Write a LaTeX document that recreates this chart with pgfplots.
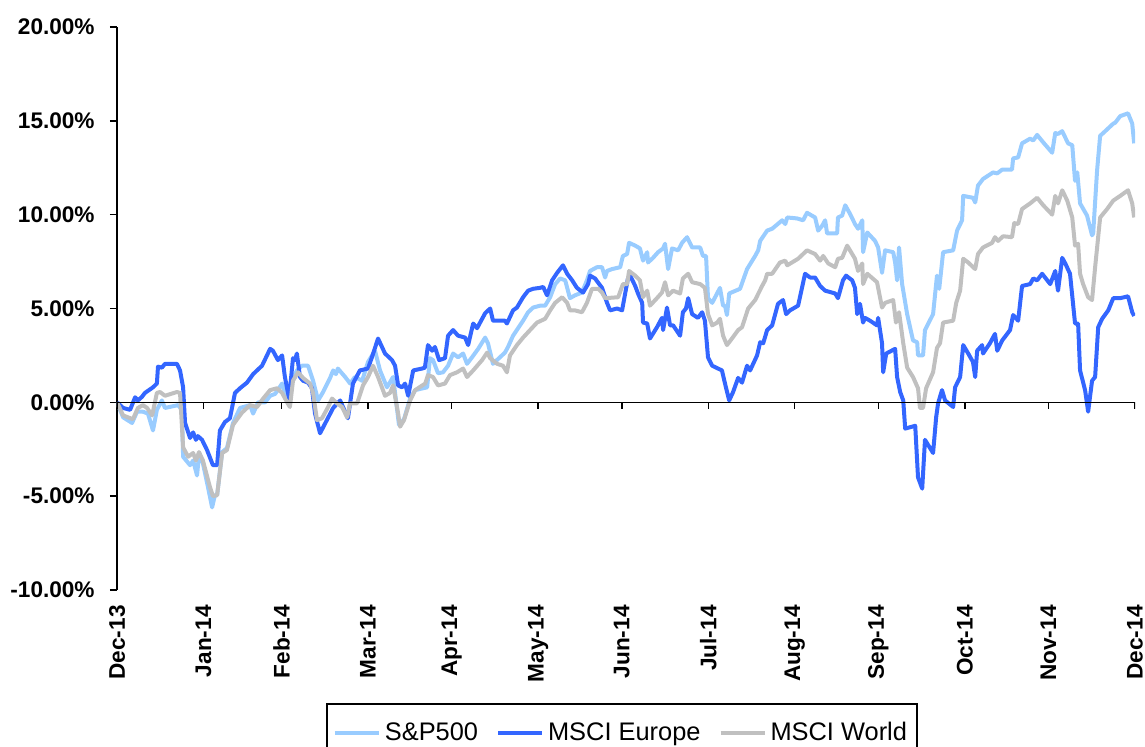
\documentclass[border=0pt]{standalone}
\usepackage{fontspec}
\setmainfont{Liberation Sans}
\usepackage{pgfplots}
\pgfplotsset{compat=1.18}
\definecolor{sp}{HTML}{99CCFF}
\definecolor{eu}{HTML}{3366FF}
\definecolor{wo}{HTML}{C0C0C0}
\begin{document}
\begin{tikzpicture}
\begin{axis}[
 at={(58.5pt,78.5pt)}, anchor=south west,
 scale only axis, width=509pt, height=281.5pt,
 xmin=0, xmax=365, ymin=-10, ymax=20,
 axis y line*=left, axis x line*=bottom,
 x axis line style={draw=none},
 y axis line style={line width=0.75pt},
 xtick={0,31,59,90,120,151,181,212,243,273,304,334,365},
 xticklabels={Dec-13,Jan-14,Feb-14,Mar-14,Apr-14,May-14,Jun-14,Jul-14,Aug-14,Sep-14,Oct-14,Nov-14,Dec-14},
 xtick style={draw=none},
 xticklabel style={rotate=90, anchor=east, inner sep=0pt, font=\fontsize{11.3}{13}\selectfont\bfseries, xshift=-4pt},
 ytick={-10,-5,0,5,10,15,20},
 yticklabels={-10.00\%,-5.00\%,0.00\%,5.00\%,10.00\%,15.00\%,20.00\%},
 ytick style={line width=0.75pt, black},
 tick align=outside, major tick length=3.5pt,
 yticklabel style={inner sep=0pt, font=\fontsize{11.3}{13}\selectfont\bfseries, xshift=-7.5pt},
 legend columns=3,
 legend style={at={(0.496,-0.254)}, anchor=center, draw=black, line width=0.8pt,
   font=\fontsize{12.7}{15}\selectfont, inner xsep=3pt, inner ysep=7pt,
   /tikz/every even column/.append style={column sep=7pt}},
 legend image code/.code={\draw[#1] (0pt,0pt) -- (22pt,0pt);},
 every axis plot/.append style={line width=2pt, line join=round},
]
\addplot[sp] coordinates {
(0.0,0) (2.2,-0.8) (5.4,-1.1) (7.2,-0.5) (9.3,-0.5) (11.1,-0.6) (12.9,-1.5) (14.3,-0.4) (16.1,0.1) (17.2,-0.3) (21.9,-0.15) (23.3,-0.4) (23.7,-2.9) (26.2,-3.35) (27.3,-3.1) (28.7,-3.9) (29.4,-2.8) (30.8,-3.25) (32.6,-4.5) (34.1,-5.6) (35.1,-4.95) (35.9,-4.95) (37.7,-2.65) (39.4,-2.45) (41.6,-1.1) (44.1,-0.3) (47.7,-0.15) (48.8,-0.6) (50.6,0) (53.1,0) (54.9,0.35) (56.7,0.45) (59.2,1.0) (61.0,0.1) (62.8,1.15) (64.5,1.7) (66.3,1.95) (68.5,1.95) (70.3,1.15) (72.1,0.1) (73.9,0.55) (76.4,1.3) (77.5,1.7) (78.5,1.5) (79.2,1.8) (81.8,1.35) (83.6,1.0) (85.3,1.35) (87.9,1.15) (90.0,2.15) (92.5,2.75) (94.3,1.7) (96.8,0.8) (99.0,1.35) (101.1,-1.2) (102.9,-0.9) (105.1,0.2) (106.9,0.65) (111.2,0.8) (112.2,2.35) (113.3,2.25) (115.1,1.55) (116.9,1.6) (118.7,1.95) (120.5,2.6) (122.3,2.4) (124.1,2.6) (125.5,2.05) (127.3,2.4) (129.5,2.85) (132.0,3.45) (133.0,3.15) (134.8,2.05) (137.3,2.4) (139.1,2.65) (140.2,2.95) (142.0,3.55) (145.6,4.35) (147.4,4.8) (149.2,5.05) (151.7,5.15) (153.5,5.15) (155.3,5.6) (157.1,6.3) (158.9,6.6) (160.7,6.5) (162.4,5.55) (164.2,5.7) (166.7,5.85) (168.5,6.5) (169.6,7.0) (172.1,7.2) (173.9,7.2) (175.0,6.65) (175.7,7.0) (177.5,7.1) (180.4,7.2) (181.4,7.8) (182.9,7.9) (183.6,8.5) (185.8,8.35) (187.5,8.2) (188.6,7.55) (190.1,8.0) (190.4,7.45) (192.2,7.7) (194.0,8.0) (195.8,8.2) (196.5,8.45) (197.6,7.1) (199.0,8.2) (201.2,8.1) (202.6,8.5) (204.4,8.8) (206.2,8.25) (209.1,8.25) (210.1,7.8) (211.2,7.8) (211.9,5.55) (213.4,5.3) (216.2,6.1) (217.3,5.15) (218.0,5.15) (218.7,4.65) (219.5,5.8) (223.4,6.05) (225.9,7.1) (228.8,7.8) (229.9,8.1) (230.6,8.6) (233.1,9.15) (234.9,9.25) (238.5,9.7) (239.6,9.5) (240.3,9.85) (243.8,9.8) (246.0,9.7) (247.4,10.1) (250.3,9.85) (251.4,9.15) (252.8,9.4) (253.9,9.7) (254.6,9.0) (258.2,9.0) (258.5,9.85) (260.0,9.95) (261.1,10.5) (262.8,10.05) (264.6,9.5) (265.7,9.25) (267.2,9.7) (267.5,8.0) (269.0,9.05) (271.8,8.6) (272.9,8.25) (274.3,6.9) (275.4,8.1) (278.3,8.0) (279.0,7.45) (279.7,6.5) (280.4,8.25) (281.5,6.3) (283.3,4.7) (285.4,3.3) (286.9,3.2) (287.2,2.5) (289.0,2.5) (289.7,3.85) (292.6,4.7) (294.0,6.75) (294.8,6.05) (296.2,8.0) (299.8,8.1) (301.2,9.15) (303.0,9.7) (303.4,11.0) (306.9,10.9) (307.7,10.65) (308.7,11.55) (310.5,11.9) (314.1,12.25) (315.6,12.2) (317.4,12.4) (320.9,12.4) (321.3,13.0) (323.1,13.05) (324.5,13.8) (327.4,14.05) (328.5,13.95) (329.9,14.25) (332.1,13.85) (335.3,13.3) (336.4,14.35) (337.4,14.3) (338.9,14.45) (341.0,13.8) (342.5,13.7) (343.5,11.8) (344.3,12.25) (345.3,10.6) (347.8,9.95) (349.6,8.9) (350.0,9.0) (351.4,12.35) (352.5,14.2) (353.6,14.35) (357.2,14.85) (357.9,14.9) (359.7,15.25) (362.5,15.4) (364.0,14.85) (364.7,13.8)
};
\addlegendentry{S\&P500}
\addplot[eu] coordinates {
(0,0) (2.2,-0.3) (4.7,-0.4) (6.5,0.27) (7.5,0.1) (9.0,0.3) (10.0,0.5) (12.9,0.8) (14.3,1.0) (14.7,1.9) (16.1,1.85) (17.2,2.05) (21.5,2.05) (22.6,1.7) (23.7,0.8) (24.4,-1.1) (26.2,-1.9) (27.3,-1.6) (28.3,-2.0) (29.0,-1.8) (30.5,-2.0) (32.3,-2.55) (34.4,-3.35) (35.9,-3.35) (36.9,-1.5) (38.7,-1.05) (40.5,-0.85) (42.3,0.5) (44.1,0.75) (46.6,1.05) (48.8,1.5) (50.2,1.7) (52.0,1.95) (54.9,2.85) (55.9,2.75) (57.7,2.25) (59.2,2.5) (60.2,1.35) (61.7,0.2) (63.1,2.35) (63.8,2.25) (64.5,2.6) (65.6,1.35) (66.7,1.15) (68.5,1.05) (69.9,0.75) (71.0,-0.6) (72.8,-1.65) (77.5,-0.3) (80.0,0.1) (82.8,-0.85) (84.6,1.0) (87.1,1.7) (90.0,1.8) (91.4,2.4) (93.6,3.4) (96.1,2.6) (98.6,2.25) (99.7,1.95) (100.8,0.9) (102.2,0.8) (103.3,1.0) (104.4,0.35) (106.2,1.7) (109.4,1.8) (110.4,1.85) (111.5,3.05) (113.0,2.75) (114.0,2.95) (115.5,2.25) (117.6,2.35) (118.7,3.55) (120.5,3.85) (122.3,3.55) (124.8,3.45) (125.9,3.05) (127.7,4.2) (129.1,3.95) (132.0,4.75) (133.8,5.0) (134.8,4.35) (139.1,4.35) (139.8,4.2) (142.0,4.9) (143.4,5.05) (145.6,5.6) (147.4,5.95) (149.2,6.05) (151.7,6.1) (152.8,6.15) (154.2,5.7) (156.0,6.5) (157.8,6.9) (159.9,7.3) (161.4,6.85) (163.2,6.5) (164.9,6.1) (167.1,5.85) (168.9,6.3) (169.6,6.75) (171.4,6.6) (173.9,6.1) (175.7,5.3) (176.8,4.9) (179.3,5.0) (181.1,4.9) (182.2,5.8) (183.2,6.6) (184.0,6.75) (185.8,6.2) (186.8,5.8) (188.3,5.3) (188.6,4.25) (190.1,4.2) (191.1,3.4) (193.6,4.0) (195.4,4.5) (195.8,3.85) (197.2,5.05) (198.3,4.1) (199.4,4.1) (201.9,3.55) (202.9,4.8) (204.0,5.0) (204.8,5.55) (206.2,4.7) (208.3,4.5) (209.8,4.8) (210.8,4.35) (211.9,2.4) (213.4,1.95) (216.9,1.7) (218.0,1.0) (219.5,0.1) (220.9,0.55) (222.7,1.3) (224.1,1.05) (225.9,1.95) (227.0,1.7) (229.5,2.5) (230.6,3.2) (231.7,3.15) (233.1,3.85) (234.9,4.1) (237.0,5.25) (238.8,5.45) (239.9,4.7) (241.3,4.9) (244.2,5.15) (246.7,6.85) (248.5,6.65) (250.3,6.65) (252.1,6.2) (253.9,5.95) (257.5,5.8) (258.5,5.55) (260.3,6.5) (261.4,6.75) (263.6,6.5) (264.6,6.1) (265.4,4.7) (266.4,5.25) (267.5,4.25) (268.2,4.5) (270.0,4.35) (272.5,4.1) (272.9,4.5) (274.3,3.15) (274.7,1.6) (275.8,2.6) (279.0,2.85) (279.7,1.35) (280.8,0.55) (281.9,0.1) (282.6,-1.4) (286.2,-1.25) (287.2,-4.0) (288.7,-4.6) (289.7,-2.0) (292.6,-2.7) (293.7,-0.8) (294.4,-0.05) (295.8,0.65) (296.9,0.1) (299.8,-0.25) (300.5,0.8) (302.3,1.35) (303.4,3.05) (305.2,2.6) (306.9,2.15) (307.7,1.35) (308.4,2.75) (310.2,3.05) (310.5,2.6) (313.0,3.15) (314.8,3.65) (315.6,2.75) (317.4,3.3) (320.2,3.85) (321.3,4.65) (323.1,4.35) (324.5,6.2) (327.4,6.3) (328.5,6.6) (329.9,6.5) (331.7,6.85) (334.6,6.3) (336.4,7.0) (337.4,5.95) (338.9,7.7) (340.0,7.4) (341.7,6.85) (343.5,4.2) (344.6,4.2) (345.3,1.7) (347.1,0.65) (348.2,-0.5) (349.6,1.15) (350.7,1.35) (351.8,4.0) (353.2,4.45) (355.4,4.9) (357.2,5.55) (359.7,5.55) (362.5,5.65) (364.0,4.8) (364.7,4.6)
};
\addlegendentry{MSCI Europe}
\addplot[wo] coordinates {
(0,0) (2.2,-0.7) (5.7,-0.9) (7.5,-0.3) (9.3,-0.15) (10.8,-0.3) (12.6,-0.7) (14.3,0.5) (15.4,0.55) (17.2,0.35) (21.5,0.55) (22.6,0.5) (23.7,-2.4) (25.5,-2.9) (27.3,-2.7) (28.3,-3.1) (29.4,-2.65) (30.8,-3.1) (33.3,-4.5) (34.4,-5.0) (35.9,-4.95) (37.7,-2.7) (39.4,-2.55) (41.6,-1.2) (44.8,-0.55) (47.7,-0.15) (50.2,-0.25) (52.4,0.2) (54.9,0.65) (57.4,0.75) (59.2,0.5) (61.0,0) (62.0,-0.25) (63.1,1.15) (64.9,1.6) (66.7,1.3) (69.2,1.0) (70.3,0.5) (71.7,-0.95) (73.5,-0.85) (75.7,-0.25) (77.1,0.2) (78.9,-0.05) (80.7,-0.25) (82.5,-0.8) (83.6,-0.05) (86.1,-0.05) (88.2,0.9) (90.0,1.35) (91.8,1.95) (93.6,1.35) (96.1,0.35) (97.9,0.5) (99.0,0.9) (100.8,-0.6) (101.5,-1.3) (102.9,-0.95) (105.1,0.1) (106.9,0.65) (110.5,1.0) (111.5,1.45) (113.3,1.35) (115.1,0.9) (117.6,1.0) (119.4,1.45) (121.9,1.6) (124.1,1.8) (125.5,1.35) (127.7,1.7) (130.9,2.25) (132.7,2.65) (133.8,2.35) (136.3,2.05) (138.4,1.95) (139.8,1.6) (140.9,2.5) (143.4,3.05) (145.6,3.45) (148.1,3.85) (150.6,4.25) (153.5,4.45) (155.3,4.9) (157.1,5.3) (159.6,5.6) (161.4,5.3) (162.4,4.9) (164.2,4.9) (166.7,4.8) (168.5,5.3) (170.3,6.05) (172.5,6.05) (173.9,5.85) (175.0,5.55) (179.7,5.6) (181.4,6.3) (182.9,6.3) (183.6,7.0) (185.8,6.75) (187.5,6.5) (188.6,5.6) (190.1,5.95) (191.1,5.15) (193.6,5.55) (195.4,5.85) (196.5,6.4) (197.6,5.7) (199.4,5.95) (201.9,5.8) (202.9,6.6) (204.8,6.85) (206.2,6.4) (209.1,6.3) (210.8,6.1) (211.9,4.7) (213.4,4.1) (215.2,4.25) (216.2,4.45) (217.3,3.55) (218.7,3.05) (220.5,3.4) (222.7,3.85) (224.1,4.0) (226.3,5.0) (228.8,5.45) (231.3,6.2) (232.4,6.5) (233.1,6.85) (234.9,6.85) (237.7,7.45) (239.6,7.55) (240.3,7.3) (244.2,7.65) (247.4,8.1) (250.3,7.9) (252.1,7.55) (253.2,7.8) (255.0,7.4) (257.5,7.2) (258.5,7.65) (260.0,7.7) (261.8,8.35) (264.6,7.65) (265.7,7.0) (267.2,7.4) (267.5,6.3) (269.0,6.85) (272.5,6.4) (274.3,5.05) (275.4,5.3) (278.3,5.45) (279.3,4.25) (280.4,4.8) (281.9,3.15) (283.3,1.85) (285.4,1.35) (287.2,0.75) (287.9,-0.3) (289.0,-0.3) (290.1,0.75) (292.6,1.6) (294.0,2.9) (295.1,3.15) (296.2,4.25) (299.8,4.35) (300.9,5.3) (302.3,5.95) (303.4,7.65) (305.2,7.45) (307.7,7.1) (308.7,7.9) (310.5,8.25) (313.8,8.5) (314.8,8.8) (315.9,8.6) (317.7,8.85) (320.9,8.8) (321.7,9.55) (323.1,9.5) (324.5,10.3) (327.4,10.6) (329.9,10.9) (332.1,10.5) (335.3,10.0) (336.4,11.0) (337.4,10.6) (338.9,11.3) (340.7,10.75) (342.5,9.85) (343.5,8.35) (344.6,8.45) (345.3,6.85) (346.4,6.3) (348.2,5.6) (349.6,5.45) (350.7,7.2) (352.5,9.85) (355.0,10.3) (357.2,10.75) (359.7,11.0) (362.5,11.3) (364.0,10.6) (364.7,9.85)
};
\addlegendentry{MSCI World}
\draw[line width=0.75pt] (axis cs:0,0) -- (axis cs:365,0);
\pgfplotsinvokeforeach{0,31,59,90,120,151,181,212,243,273,304,334,365}{
  \draw[line width=0.75pt] (axis cs:#1,0) -- ++(0pt,-3.5pt);
}
\end{axis}
\pgfresetboundingbox
\useasboundingbox (0,0) rectangle (572.5pt,373.5pt);
\end{tikzpicture}
\end{document}
